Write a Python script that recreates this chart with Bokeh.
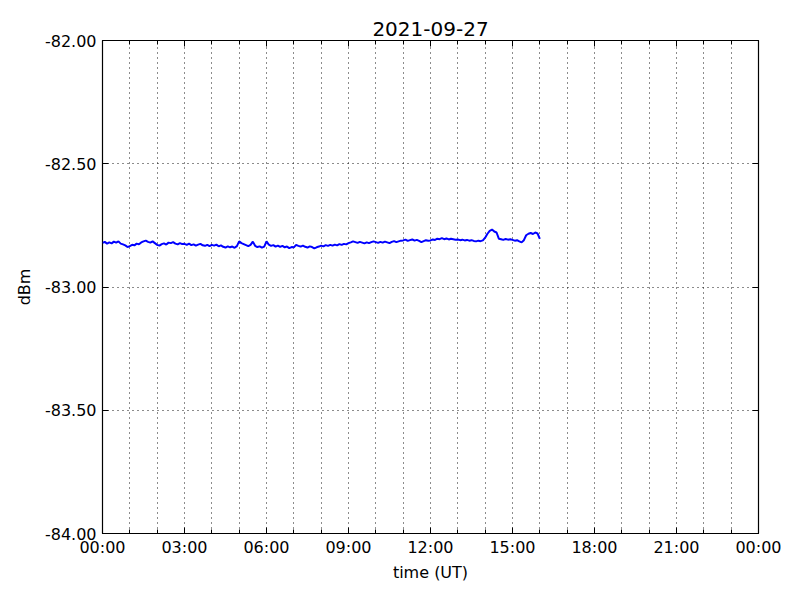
from bokeh.plotting import figure
from bokeh.models import FixedTicker, LinearAxis, NumeralTickFormatter, Range1d
from bokeh.embed import file_html
from bokeh.resources import INLINE

title_text = "2021-09-27"
x_label = "time (UT)"
y_label = "dBm"
x_tick_hours = [0, 3, 6, 9, 12, 15, 18, 21, 24]
x_tick_labels = ["00:00", "03:00", "06:00", "09:00", "12:00", "15:00", "18:00", "21:00", "00:00"]
y_ticks = [-84.0, -83.5, -83.0, -82.5, -82.0]

# signal level (dBm) sampled every 5 minutes from 00:00 to 16:00 UT
h00 = [-82.821, -82.817, -82.824, -82.819, -82.823, -82.816, -82.820, -82.815, -82.824, -82.827, -82.831, -82.838]
h01 = [-82.834, -82.829, -82.831, -82.824, -82.827, -82.819, -82.815, -82.812, -82.817, -82.820, -82.815, -82.822]
h02 = [-82.829, -82.832, -82.826, -82.823, -82.828, -82.820, -82.822, -82.818, -82.824, -82.827, -82.822, -82.826]
h03 = [-82.825, -82.829, -82.824, -82.830, -82.827, -82.832, -82.828, -82.825, -82.831, -82.833, -82.829, -82.834]
h04 = [-82.829, -82.832, -82.828, -82.835, -82.831, -82.837, -82.840, -82.835, -82.839, -82.836, -82.841, -82.834]
h05 = [-82.815, -82.822, -82.826, -82.830, -82.834, -82.829, -82.816, -82.833, -82.838, -82.835, -82.840, -82.836]
h06 = [-82.815, -82.828, -82.833, -82.830, -82.836, -82.832, -82.837, -82.833, -82.839, -82.836, -82.842, -82.838]
h07 = [-82.839, -82.829, -82.833, -82.836, -82.832, -82.837, -82.840, -82.835, -82.838, -82.843, -82.839, -82.836]
h08 = [-82.832, -82.835, -82.830, -82.833, -82.829, -82.832, -82.828, -82.831, -82.826, -82.829, -82.825, -82.827]
h09 = [-82.822, -82.819, -82.815, -82.818, -82.821, -82.817, -82.820, -82.823, -82.819, -82.822, -82.818, -82.815]
h10 = [-82.818, -82.821, -82.817, -82.820, -82.816, -82.819, -82.822, -82.817, -82.814, -82.818, -82.815, -82.812]
h11 = [-82.811, -82.808, -82.813, -82.810, -82.807, -82.812, -82.809, -82.813, -82.818, -82.814, -82.810, -82.812]
h12 = [-82.811, -82.807, -82.809, -82.804, -82.806, -82.802, -82.806, -82.803, -82.807, -82.804, -82.806, -82.808]
h13 = [-82.807, -82.810, -82.808, -82.811, -82.809, -82.812, -82.810, -82.813, -82.815, -82.812, -82.814, -82.811]
h14 = [-82.800, -82.784, -82.772, -82.767, -82.775, -82.779, -82.804, -82.806, -82.809, -82.805, -82.808, -82.806]
h15 = [-82.809, -82.812, -82.810, -82.815, -82.819, -82.810, -82.790, -82.784, -82.781, -82.785, -82.779, -82.783]
h16 = [-82.805]

dbm = h00 + h01 + h02 + h03 + h04 + h05 + h06 + h07 + h08 + h09 + h10 + h11 + h12 + h13 + h14 + h15 + h16
sample_step_minutes = 5
hours = [i * sample_step_minutes / 60.0 for i in range(len(dbm))]

FONT = "DejaVu Sans"

p = figure(width=784, height=584, output_backend="svg", toolbar_location=None,
           x_range=Range1d(0, 24), y_range=Range1d(-84, -82),
           min_border_left=102, min_border_right=26, min_border_top=40, min_border_bottom=51)
p.background_fill_color = "white"
p.border_fill_color = "white"
p.outline_line_color = "black"
p.outline_line_width = 1.2

p.title.text = title_text
p.title.align = "center"
p.title.text_font = FONT
p.title.text_font_size = "20px"
p.title.text_font_style = "normal"
p.title.text_color = "black"
p.title.standoff = 10

p.line(hours, dbm, line_color="#0000ff", line_width=2)

# axes
xa = p.xaxis[0]
xa.ticker = FixedTicker(ticks=x_tick_hours, minor_ticks=list(range(25)))
xa.major_label_overrides = {h: l for h, l in zip(x_tick_hours, x_tick_labels)}
xa.axis_label = x_label
ya = p.yaxis[0]
ya.ticker = FixedTicker(ticks=y_ticks)
ya.formatter = NumeralTickFormatter(format="0.00")
ya.axis_label = y_label

for ax in (xa, ya):
    ax.axis_line_color = None
    ax.major_tick_in = 6
    ax.major_tick_out = 0
    ax.minor_tick_in = 4
    ax.minor_tick_out = 0
    ax.major_tick_line_color = "black"
    ax.minor_tick_line_color = "black"
    ax.major_label_text_font = FONT
    ax.major_label_text_font_size = "16px"
    ax.major_label_text_color = "black"
    ax.axis_label_text_font = FONT
    ax.axis_label_text_font_size = "16px"
    ax.axis_label_text_font_style = "normal"
    ax.axis_label_text_color = "black"
xa.major_label_standoff = 4
xa.axis_label_standoff = 3
ya.major_label_standoff = 6
ya.axis_label_standoff = 8

# top and right axes with ticks only
top = LinearAxis(ticker=FixedTicker(ticks=x_tick_hours, minor_ticks=list(range(25))))
right = LinearAxis(ticker=FixedTicker(ticks=y_ticks))
for ax in (top, right):
    ax.axis_line_color = None
    ax.major_tick_in = 6
    ax.major_tick_out = 0
    ax.minor_tick_in = 4
    ax.minor_tick_out = 0
    ax.major_label_text_font_size = "0px"
    ax.major_label_text_color = None
    ax.major_label_standoff = 0
p.add_layout(top, "above")
p.add_layout(right, "right")

# grids
p.xgrid.ticker = FixedTicker(ticks=list(range(25)))
p.ygrid.ticker = FixedTicker(ticks=y_ticks)
for g in (p.xgrid[0], p.ygrid[0]):
    g.grid_line_color = "black"
    g.grid_line_dash = "1 4"
    g.grid_line_width = 1
    g.grid_line_alpha = 0.9

open("out.html", "w").write(file_html(p, INLINE))
